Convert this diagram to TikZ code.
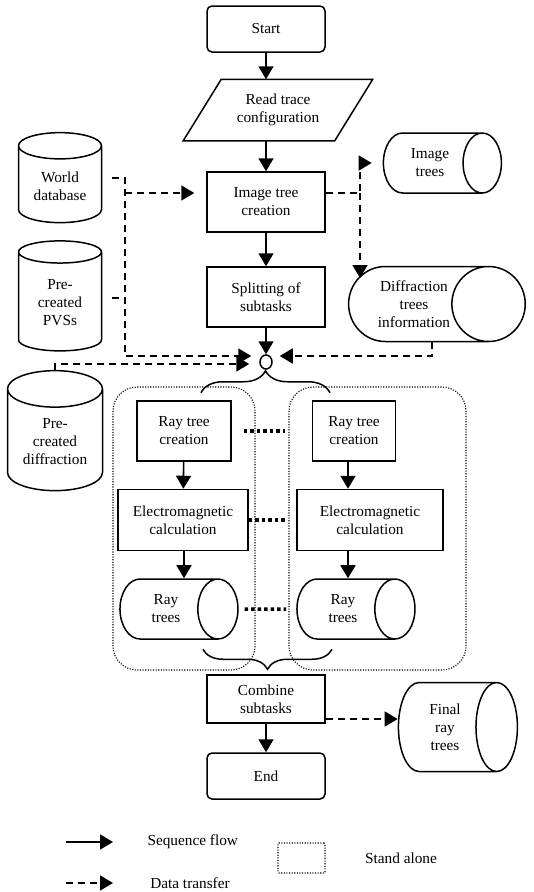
\documentclass[tikz,border=0pt]{standalone}
\usepackage{fontspec}
\setmainfont{Liberation Serif}
\usetikzlibrary{shapes.geometric, arrows.meta, positioning, calc, decorations.pathreplacing}

\tikzset{
  box/.style={draw, line width=1.5pt, minimum width=118pt, minimum height=60pt, align=center, inner sep=2pt},
  term/.style={box, rounded corners=5pt, minimum height=46pt},
  io/.style={box, draw=none, minimum width=150pt},
  store/.style={draw, line width=1.5pt, cylinder, align=center, inner sep=1pt},
  vstore/.style={store, shape border rotate=90},
  seq/.style={line width=1.6pt, -{Triangle[length=13pt,width=15pt]}},
  feed/.style={line width=1.6pt, dash pattern=on 7pt off 5pt},
  data/.style={feed, -{Triangle[length=13pt,width=15pt]}},
  link/.style={line width=3.5pt, dash pattern=on 3.5pt off 3pt},
  alone/.style={line width=1.1pt, dash pattern=on 1.1pt off 1.5pt, rounded corners=24pt},
  curly/.style={decorate, decoration={brace, amplitude=#1}, line width=1.5pt},
}

\begin{document}
\begin{tikzpicture}[x=1pt, y=-1pt, font=\fontsize{15.3}{18}\selectfont]
    \useasboundingbox (0,0) rectangle (534,892);

    % Main flow
    \node[term] (start) at (266,29) {Start};
    \node[io] (read) at (278,110) {Read trace\\configuration};
    \draw[line width=1.5pt] ($(read.north west)+(19,0)$) -- ($(read.north east)+(19,0)$)
        -- ($(read.south east)+(-19,0)$) -- ($(read.south west)+(-19,0)$) -- cycle;
    \node[box] (imgtree) at (266,202) {Image tree\\creation};
    \node[box] (split) at (266,297) {Splitting of\\subtasks};
    \node[draw, line width=1.5pt, ellipse, minimum width=12pt, minimum height=14pt, inner sep=0pt] (jn) at (266,362) {};

    % Data stores
    \node[vstore, minimum height=90pt, minimum width=83pt, aspect=0.48] (world) at (60,186) {World\\database};
    \node[vstore, minimum height=110pt, minimum width=83pt, aspect=0.48] (pvs) at (60,303) {Pre-\\created\\PVSs};
    \node[vstore, minimum height=120pt, minimum width=95pt, aspect=0.55] (pcdiff) at (55,442) {Pre-\\created\\diffraction};
    \node[store, minimum height=118pt, minimum width=60pt, aspect=1.27] (imgtrees) at (430,163) {Image\\trees};
    \node[store, minimum height=174pt, minimum width=75pt, aspect=1.5] (difftrees) at (414,304) {Diffraction\\trees\\information};

    % Stand alone subtasks
    \draw[alone] (113,387) rectangle (255,670);
    \draw[alone] (289,387) rectangle (466,670);

    \node[box, minimum width=94pt] (rtc1) at (184,431) {Ray tree\\creation};
    \node[box, minimum width=130pt, minimum height=61pt] (emc1) at (183,520) {Electromagnetic\\calculation};
    \node[store, minimum height=118pt, minimum width=60pt, aspect=1.33] (rt1) at (166,609) {Ray\\trees};

    \node[box, minimum width=83pt] (rtc2) at (354,431) {Ray tree\\creation};
    \node[box, minimum width=146pt, minimum height=61pt] (emc2) at (370,520) {Electromagnetic\\calculation};
    \node[store, minimum height=118pt, minimum width=60pt, aspect=1.33] (rt2) at (343,609) {Ray\\trees};

    \node[box, minimum height=48pt] (combine) at (266,699) {Combine\\subtasks};
    \node[term] (end) at (266,776) {End};
    \node[store, minimum height=119pt, minimum width=89pt, aspect=0.85] (frt) at (445,727) {Final\\ray\\trees};

    % Sequence flow
    \draw[seq] (start) -- (start |- read.north);
    \draw[seq] (read.south -| imgtree) -- (imgtree);
    \draw[seq] (imgtree) -- (split);
    \draw[seq] (split) -- (jn);
    \draw[seq] (rtc1) -- (emc1);
    \draw[seq] (emc1.south -| rtc1) -- (rt1.north -| rtc1);
    \draw[seq] ([xshift=-6pt]rtc2.south) -- ([xshift=-6pt]rtc2.south |- emc2.north);
    \draw[seq] ([xshift=-6pt]rtc2.south |- emc2.south) -- ([xshift=-6pt]rtc2.south |- rt2.north);
    \draw[seq] (combine) -- (end);

    % Data transfer
    \coordinate (trunk) at (125,178);
    \draw[data] ([xshift=10pt]world.east |- trunk) -- (trunk) -- (trunk |- 0,356) -- ($(jn.west)+(-8,-6)$);
    \draw[feed] ([xshift=10pt]pvs.east |- 0,298) -- (trunk |- 0,298);
    \draw[data] (trunk |- 0,193) -- ($(imgtree.west)+(-12,-9)$);
    \draw[data] (pcdiff.north) |- ($(jn.west)+(-10,2)$);
    \coordinate (fork) at (360,193);
    \draw[data] ($(imgtree.east)+(0,-9)$) -- (fork) |- ($(imgtrees.west)+(-11,0)$);
    \draw[data] (fork) -- (fork |- 0,278);
    \draw[data] (difftrees.south -| 432,0) |- ($(jn.east)+(7,-6)$);
    \draw[data] ($(combine.east)+(0,20)$) -- ($(frt.west)+(0,-8)$);

    % Links between subtasks
    \draw[link] ([xshift=12pt]rtc1.east) -- ([xshift=-27pt]rtc2.west);
    \draw[link] (emc1.east) -- ([xshift=-11pt]emc2.west);
    \draw[link] ([xshift=6pt]rt1.east) -- ([xshift=-10pt]rt2.west);

    % Braces
    \draw[curly=22pt] ($(jn.south)+(-65,23)$) -- ($(jn.south)+(64,23)$);
    \draw[curly=20pt] ($(combine.north)+(66,-25)$) -- ($(combine.north)+(-63,-25)$);

    % Legend
    \draw[seq] (66,842) -- (113,842);
    \node[anchor=west] (lgseq) at (144,842) {Sequence flow};
    \draw[data] (66,883) -- (113,883);
    \node (lgdata) at (190,883) {Data transfer};
    \node[alone, draw, rounded corners=1pt, minimum width=47pt, minimum height=30pt] (lgbox) at (301.5,858) {};
    \node (lgalone) at (401,858) {Stand alone};
\end{tikzpicture}
\end{document}
